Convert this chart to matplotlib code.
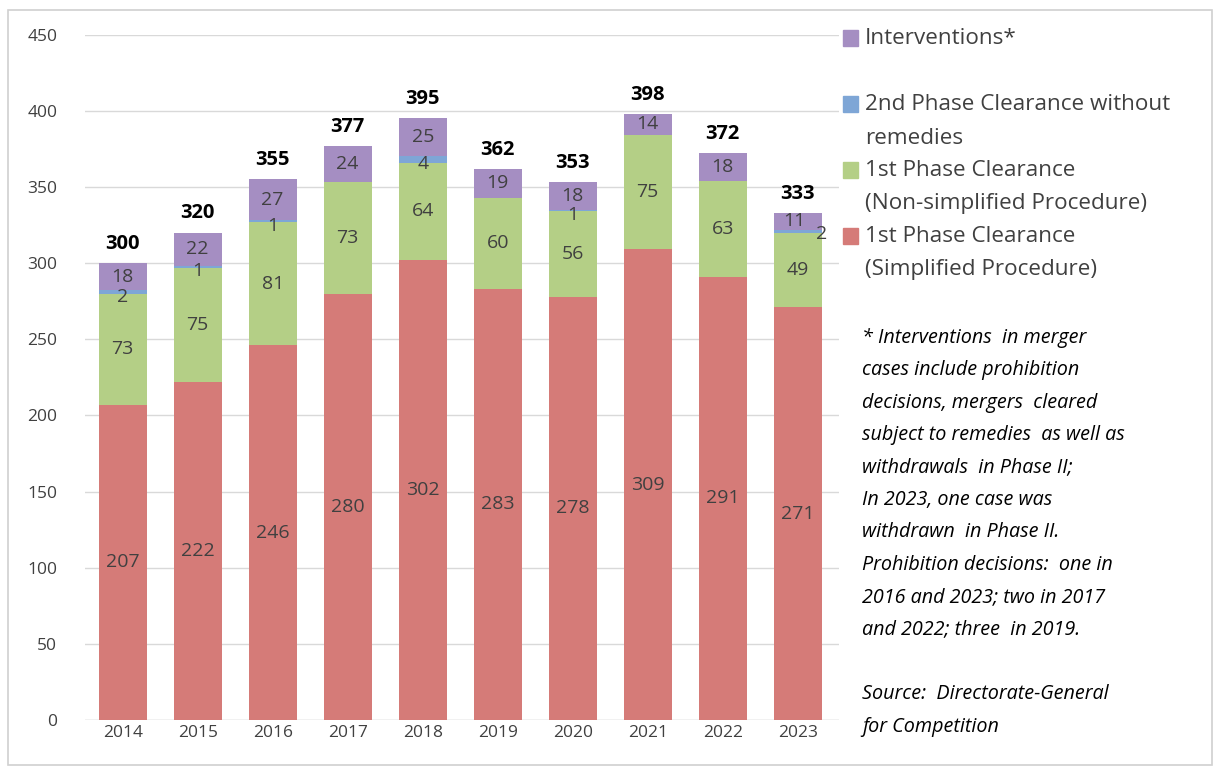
import matplotlib.pyplot as plt
from matplotlib.patches import Rectangle
import numpy as np

years = ['2014', '2015', '2016', '2017', '2018', '2019', '2020', '2021', '2022', '2023']
simplified = [207, 222, 246, 280, 302, 283, 278, 309, 291, 271]
non_simplified = [73, 75, 81, 73, 64, 60, 56, 75, 63, 49]
phase2 = [2, 1, 1, 0, 4, 0, 1, 0, 0, 2]
interventions = [18, 22, 27, 24, 25, 19, 18, 14, 18, 11]
totals = [300, 320, 355, 377, 395, 362, 353, 398, 372, 333]

c_red = '#D57B78'
c_green = '#B4CF86'
c_blue = '#7EA6D6'
c_purple = '#A58EC2'
txt = '#404040'

plt.rcParams['font.family'] = ['Open Sans', 'DejaVu Sans']

fig = plt.figure(figsize=(12.16, 7.73), dpi=100)
ax = fig.add_axes([0.07, 0.0686, 0.62, 0.8866])

x = np.arange(len(years))
w = 0.64
series = [simplified, non_simplified, phase2, interventions]
colors = [c_red, c_green, c_blue, c_purple]
bottom = np.zeros(len(years))
for vals, col in zip(series, colors):
    ax.bar(x, vals, w, bottom=bottom, color=col, zorder=2)
    bottom += np.array(vals)

# segment labels
bottom = np.zeros(len(years))
for k, vals in enumerate(series):
    for i, v in enumerate(vals):
        if v == 0:
            continue
        yc = bottom[i] + v / 2
        xc = x[i]
        if k == 2:
            yc = bottom[i] + v / 2 - 3
            if years[i] == '2023':
                xc = x[i] + 0.32
                yc = bottom[i] - 1
        if k == 3 and years[i] == '2023':
            xc = x[i] - 0.05
        ax.text(xc, yc, str(v), ha='center', va='center', fontsize=14, color=txt, zorder=3)
    bottom += np.array(vals)

for i, t in enumerate(totals):
    ax.text(x[i], t + 6, str(t), ha='center', va='bottom', fontsize=14.5,
            fontweight='bold', color='black', zorder=3)

ax.set_ylim(0, 450)
ax.set_xlim(-0.5, len(years) - 0.45)
ax.set_yticks(range(0, 451, 50))
ax.set_xticks(x)
ax.set_xticklabels(years)
ax.tick_params(axis='both', length=0, labelsize=12.5, colors=txt)
ax.tick_params(axis='y', pad=20)
ax.grid(axis='y', color='#d9d9d9', linewidth=1, zorder=0)
for s in ax.spines.values():
    s.set_visible(False)
ax.axhline(0, color='#d9d9d9', linewidth=1, zorder=1)

# legend drawn by hand
W, H = 1216, 773
leg = [
    (c_purple, ['Interventions*'], 38),
    (c_blue, ['2nd Phase Clearance without', 'remedies'], 104),
    (c_green, ['1st Phase Clearance', '(Non-simplified Procedure)'], 170),
    (c_red, ['1st Phase Clearance', '(Simplified Procedure)'], 236),
]
for col, lines, ypix in leg:
    fig.patches.append(Rectangle((843 / W, 1 - (ypix + 8) / H), 15 / W, 16 / H,
                                 transform=fig.transFigure, color=col))
    for j, line in enumerate(lines):
        fig.text(865 / W, 1 - (ypix + j * 34) / H, line, fontsize=16.2, color=txt,
                 va='center', ha='left')

note = ['* Interventions  in merger',
        'cases include prohibition',
        'decisions, mergers  cleared',
        'subject to remedies  as well as',
        'withdrawals  in Phase II;',
        'In 2023, one case was',
        'withdrawn  in Phase II.',
        'Prohibition decisions:  one in',
        '2016 and 2023; two in 2017',
        'and 2022; three  in 2019.',
        '',
        'Source:  Directorate-General',
        'for Competition']
for j, line in enumerate(note):
    fig.text(862 / W, 1 - (338 + j * 32.4) / H, line, fontsize=14.2, style='italic',
             color='black', va='center', ha='left')

fig.patches.append(Rectangle((8 / W, 8 / H), 1204 / W, 755 / H, transform=fig.transFigure,
                             fill=False, edgecolor='#d0d0d0', linewidth=1.2))

fig.savefig('out.png', dpi=100)
